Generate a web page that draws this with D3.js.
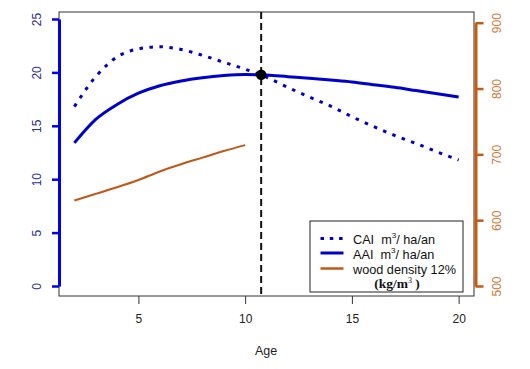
<!DOCTYPE html>
<html lang="en">
<head>
<meta charset="UTF-8">
<title>CAI / AAI and wood density</title>
<script src="https://d3js.org/d3.v7.min.js"></script>
<style>
    body {
        margin: 0;
        background: #fff;
        font-family: 'Liberation Sans', Arial, sans-serif;
    }
    svg text {
        white-space: pre;
    }
</style>
</head>
<body>
<div id="chart"></div>
<script>
    // values
    const ages = [2, 3, 4, 5, 6, 7, 8, 9, 10, 11, 12, 13, 14, 15, 16, 17, 18, 19, 20];
    const cai = [16.8, 19.6, 21.45, 22.2, 22.4, 22.15, 21.6, 20.95, 20.3, 19.55, 18.6, 17.7, 16.85, 15.85, 14.95, 14.1, 13.35, 12.55, 11.8];
    const aai = [13.4, 15.6, 17.0, 18.05, 18.75, 19.2, 19.5, 19.7, 19.8, 19.75, 19.6, 19.45, 19.28, 19.1, 18.85, 18.6, 18.3, 18.0, 17.7];
    const densityAges = [2, 3, 4, 5, 6, 7, 8, 9, 10];
    const density = [630, 640, 650, 661, 674, 685, 695, 705, 714];
    const crossAge = 10.75;
    const crossValue = 19.78;

    const xTicks = [5, 10, 15, 20];
    const leftTicks = [0, 5, 10, 15, 20, 25];
    const rightTicks = [500, 600, 700, 800, 900];

    const width = 530, height = 369;
    const box = { left: 59, right: 474, top: 12, bottom: 296 };

    const svg = d3.select("#chart").append("svg")
        .attr("width", width)
        .attr("height", height);

    const x = d3.scaleLinear().domain([1.28, 20.72]).range([box.left, box.right]);
    const yL = d3.scaleLinear().domain([0, 25]).range([286, 19]);
    const yR = d3.scaleLinear().domain([500, 900]).range([286, 22.7]);

    const blue = "#0000cc";
    const orange = "#c0581a";

    // plot frame
    svg.append("rect")
        .attr("x", box.left)
        .attr("y", box.top)
        .attr("width", box.right - box.left)
        .attr("height", box.bottom - box.top)
        .attr("fill", "none")
        .attr("stroke", "#333")
        .attr("stroke-width", 1);

    // bottom axis
    const xAxis = svg.append("g")
        .attr("transform", `translate(0,${box.bottom})`)
        .call(d3.axisBottom(x).tickValues(xTicks).tickSize(8).tickPadding(10).tickSizeOuter(0));
    xAxis.select(".domain").remove();
    xAxis.selectAll("line").attr("stroke", "#333");
    xAxis.selectAll("text")
        .attr("font-family", "'Liberation Sans', Arial, sans-serif")
        .attr("font-size", 12)
        .attr("fill", "#222");

    svg.append("text")
        .attr("x", 266)
        .attr("y", 354.5)
        .attr("text-anchor", "middle")
        .attr("font-size", 12.5)
        .attr("fill", "#222")
        .text("Age");

    // left axis (blue)
    const leftAxis = svg.append("g")
        .attr("transform", `translate(${box.left},0)`)
        .call(d3.axisLeft(yL).tickValues(leftTicks).tickSize(7).tickSizeOuter(0));
    leftAxis.select(".domain")
        .attr("stroke", "#0000ee")
        .attr("stroke-width", 3);
    leftAxis.selectAll("line")
        .attr("stroke", "#0000ee")
        .attr("stroke-width", 2.5);
    leftAxis.selectAll("text")
        .attr("transform", "rotate(-90)")
        .attr("x", 0)
        .attr("y", -18.5)
        .attr("dy", 0)
        .attr("text-anchor", "middle")
        .attr("font-family", "'Liberation Sans', Arial, sans-serif")
        .attr("font-size", 12)
        .attr("fill", "#2e2e9a");

    // right axis (orange)
    const rightAxis = svg.append("g")
        .attr("transform", `translate(475.5,0)`)
        .call(d3.axisRight(yR).tickValues(rightTicks).tickSize(8).tickSizeOuter(0));
    rightAxis.select(".domain")
        .attr("stroke", "#c55a11")
        .attr("stroke-width", 3);
    rightAxis.selectAll("line")
        .attr("stroke", "#c55a11")
        .attr("stroke-width", 2.5);
    rightAxis.selectAll("text")
        .attr("transform", "rotate(-90)")
        .attr("x", 0)
        .attr("y", 25)
        .attr("dy", 0)
        .attr("text-anchor", "middle")
        .attr("font-family", "'Liberation Sans', Arial, sans-serif")
        .attr("font-size", 12)
        .attr("fill", "#d07a3a");

    // data lines
    const lineL = d3.line()
        .x(d => x(d[0]))
        .y(d => yL(d[1]))
        .curve(d3.curveMonotoneX);
    const lineR = d3.line()
        .x(d => x(d[0]))
        .y(d => yR(d[1]))
        .curve(d3.curveMonotoneX);

    svg.append("path")
        .datum(densityAges.map((a, i) => [a, density[i]]))
        .attr("d", lineR)
        .attr("fill", "none")
        .attr("stroke", orange)
        .attr("stroke-width", 2);

    svg.append("path")
        .datum(ages.map((a, i) => [a, cai[i]]))
        .attr("d", lineL)
        .attr("fill", "none")
        .attr("stroke", blue)
        .attr("stroke-width", 3)
        .attr("stroke-dasharray", "3.5,6.5");

    svg.append("path")
        .datum(ages.map((a, i) => [a, aai[i]]))
        .attr("d", lineL)
        .attr("fill", "none")
        .attr("stroke", blue)
        .attr("stroke-width", 3);

    // vertical marker at the crossing
    svg.append("line")
        .attr("x1", x(crossAge))
        .attr("x2", x(crossAge))
        .attr("y1", box.top)
        .attr("y2", box.bottom)
        .attr("stroke", "#111")
        .attr("stroke-width", 2)
        .attr("stroke-dasharray", "7,4");

    svg.append("circle")
        .attr("cx", x(crossAge))
        .attr("cy", yL(crossValue))
        .attr("r", 5.2)
        .attr("fill", "#000");

    // legend
    const legend = svg.append("g");
    legend.append("rect")
        .attr("x", 310)
        .attr("y", 221)
        .attr("width", 153)
        .attr("height", 71)
        .attr("fill", "#fff")
        .attr("stroke", "#222")
        .attr("stroke-width", 1);

    const items = [
        { label: "CAI  m", dash: "3.5,5.8", color: blue, w: 3, y: 238.5, base: 244 },
        { label: "AAI  m", dash: null, color: blue, w: 3, y: 253, base: 258.5 },
        { label: "wood density 12%", dash: null, color: orange, w: 2.5, y: 268.5, base: 273.5 }
    ];

    items.forEach(it => {
        legend.append("line")
            .attr("x1", 320.5)
            .attr("x2", 343.5)
            .attr("y1", it.y)
            .attr("y2", it.y)
            .attr("stroke", it.color)
            .attr("stroke-width", it.w)
            .attr("stroke-dasharray", it.dash);
        const t = legend.append("text")
            .attr("x", 353)
            .attr("y", it.base)
            .attr("font-size", 12.7)
            .attr("fill", "#111")
            .text(it.label);
        if (it.label !== "wood density 12%") {
            t.append("tspan").attr("font-size", 8).attr("dy", -6).text("3");
            t.append("tspan").attr("dy", 6).text("/ ha/an");
        }
    });

    const unit = legend.append("text")
        .attr("x", 397)
        .attr("y", 288)
        .attr("text-anchor", "middle")
        .attr("font-family", "'Liberation Serif', 'Times New Roman', serif")
        .attr("font-weight", "bold")
        .attr("font-size", 13.5)
        .attr("fill", "#111")
        .text("(kg/m");
    unit.append("tspan").attr("font-size", 8).attr("font-weight", "normal").attr("dy", -5).text("3");
    unit.append("tspan").attr("dy", 5).text(" )");
</script>
</body>
</html>
